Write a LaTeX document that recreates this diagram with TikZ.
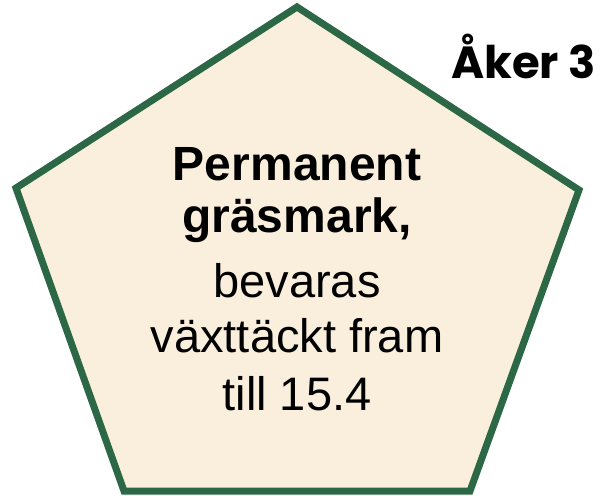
\documentclass[tikz,border=0pt]{standalone}
\usepackage{fontspec}
\setmainfont{Liberation Sans}
\newfontfamily\titlefont{Poppins}
\definecolor{pentfill}{RGB}{249,239,220}
\definecolor{pentline}{RGB}{44,104,69}
\begin{document}
\begin{tikzpicture}[x=1pt,y=-1pt,
  bodytext/.style={anchor=base,inner sep=0pt,font=\fontsize{47}{55}\selectfont},
  boldtext/.style={bodytext,font=\fontsize{48}{55}\selectfont\bfseries}]
\useasboundingbox (0,0) rectangle (604,495);
\coordinate (ptop) at (297,7);
\coordinate (pright) at (579,190);
\coordinate (pbr) at (470,491);
\coordinate (pbl) at (124,491);
\coordinate (pleft) at (16,188);
\draw[line width=7pt,line join=miter,draw=pentline,fill=pentfill]
  (ptop) -- (pright) -- (pbr) -- (pbl) -- (pleft) -- cycle;
\node[boldtext] (t1) at (297,180) {Permanent};
\node[boldtext] (t2) at (297,232) {gräsmark,};
\node[bodytext] (t3) at (297,297) {bevaras};
\node[bodytext] (t4) at (297,352) {växttäckt fram};
\node[bodytext] (t5) at (297,410) {till 15.4};
\node[anchor=base west,inner sep=0pt,font=\titlefont\fontsize{45}{50}\selectfont\bfseries] (title) at (451,78) {Åker 3};
\end{tikzpicture}
\end{document}
